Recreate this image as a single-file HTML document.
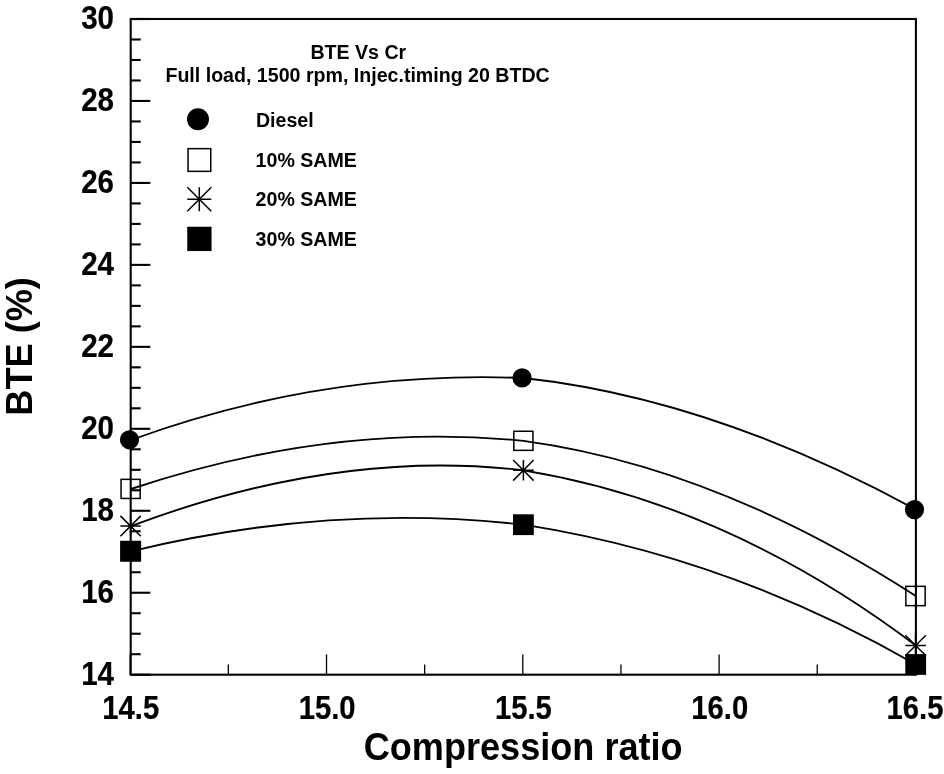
<!DOCTYPE html>
<html lang="en"><head><meta charset="utf-8"><title>BTE Vs Cr</title>
<style>html,body{margin:0;padding:0;background:#fff;}svg{display:block;will-change:transform;}text{font-family:'Liberation Sans', Arial, Helvetica, sans-serif;font-weight:bold;fill:#000;}</style></head><body>
<svg width="944" height="774" viewBox="0 0 944 774">
<rect x="0" y="0" width="944" height="774" fill="#fff"/>
<g fill="none" stroke="#000" stroke-width="1.85" stroke-linecap="butt">
<path d="M131.00 440.00 C261.82 392.16 392.63 372.80 523.45 378.00 C654.27 392.16 785.08 438.41 915.90 509.60"/>
<path d="M131.00 489.00 C261.82 445.26 392.63 427.75 523.45 440.80 C654.27 458.59 785.08 511.52 915.90 596.00"/>
<path d="M131.00 526.10 C261.82 476.99 392.63 454.76 523.45 470.30 C654.27 491.57 785.08 546.83 915.90 645.50"/>
<path d="M131.00 551.30 C261.82 519.51 392.63 509.88 523.45 524.70 C654.27 545.21 785.08 589.45 915.90 664.50"/>
</g>
<rect x="130.70" y="19.00" width="785.20" height="655.70" fill="none" stroke="#000" stroke-width="2.1"/>
<g stroke="#000" stroke-width="2.1">
<line x1="130.70" y1="674.70" x2="150.30" y2="674.70"/>
<line x1="130.70" y1="654.21" x2="140.70" y2="654.21"/>
<line x1="130.70" y1="633.72" x2="140.70" y2="633.72"/>
<line x1="130.70" y1="613.23" x2="140.70" y2="613.23"/>
<line x1="130.70" y1="592.74" x2="150.30" y2="592.74"/>
<line x1="130.70" y1="572.25" x2="140.70" y2="572.25"/>
<line x1="130.70" y1="551.76" x2="140.70" y2="551.76"/>
<line x1="130.70" y1="531.27" x2="140.70" y2="531.27"/>
<line x1="130.70" y1="510.78" x2="150.30" y2="510.78"/>
<line x1="130.70" y1="490.28" x2="140.70" y2="490.28"/>
<line x1="130.70" y1="469.79" x2="140.70" y2="469.79"/>
<line x1="130.70" y1="449.30" x2="140.70" y2="449.30"/>
<line x1="130.70" y1="428.81" x2="150.30" y2="428.81"/>
<line x1="130.70" y1="408.32" x2="140.70" y2="408.32"/>
<line x1="130.70" y1="387.83" x2="140.70" y2="387.83"/>
<line x1="130.70" y1="367.34" x2="140.70" y2="367.34"/>
<line x1="130.70" y1="346.85" x2="150.30" y2="346.85"/>
<line x1="130.70" y1="326.36" x2="140.70" y2="326.36"/>
<line x1="130.70" y1="305.87" x2="140.70" y2="305.87"/>
<line x1="130.70" y1="285.38" x2="140.70" y2="285.38"/>
<line x1="130.70" y1="264.89" x2="150.30" y2="264.89"/>
<line x1="130.70" y1="244.40" x2="140.70" y2="244.40"/>
<line x1="130.70" y1="223.91" x2="140.70" y2="223.91"/>
<line x1="130.70" y1="203.42" x2="140.70" y2="203.42"/>
<line x1="130.70" y1="182.93" x2="150.30" y2="182.93"/>
<line x1="130.70" y1="162.43" x2="140.70" y2="162.43"/>
<line x1="130.70" y1="141.94" x2="140.70" y2="141.94"/>
<line x1="130.70" y1="121.45" x2="140.70" y2="121.45"/>
<line x1="130.70" y1="100.96" x2="150.30" y2="100.96"/>
<line x1="130.70" y1="80.47" x2="140.70" y2="80.47"/>
<line x1="130.70" y1="59.98" x2="140.70" y2="59.98"/>
<line x1="130.70" y1="39.49" x2="140.70" y2="39.49"/>
<line x1="130.70" y1="19.00" x2="150.30" y2="19.00"/>
</g>
<g stroke="#000" stroke-width="1.3">
<line x1="130.20" y1="674.70" x2="130.20" y2="654.40"/>
<line x1="228.35" y1="674.70" x2="228.35" y2="664.40"/>
<line x1="326.50" y1="674.70" x2="326.50" y2="654.40"/>
<line x1="424.65" y1="674.70" x2="424.65" y2="664.40"/>
<line x1="522.80" y1="674.70" x2="522.80" y2="654.40"/>
<line x1="620.95" y1="674.70" x2="620.95" y2="664.40"/>
<line x1="719.10" y1="674.70" x2="719.10" y2="654.40"/>
<line x1="817.25" y1="674.70" x2="817.25" y2="664.40"/>
<line x1="915.40" y1="674.70" x2="915.40" y2="654.40"/>
</g>
<g font-size="30" text-anchor="end" stroke="#000" stroke-width="0.2" stroke-linejoin="round">
<text transform="translate(114.0 684.70) scale(0.985 1.085)">14</text>
<text transform="translate(114.0 602.74) scale(0.985 1.085)">16</text>
<text transform="translate(114.0 520.78) scale(0.985 1.085)">18</text>
<text transform="translate(114.0 438.81) scale(0.985 1.085)">20</text>
<text transform="translate(114.0 356.85) scale(0.985 1.085)">22</text>
<text transform="translate(114.0 274.89) scale(0.985 1.085)">24</text>
<text transform="translate(114.0 192.93) scale(0.985 1.085)">26</text>
<text transform="translate(114.0 110.96) scale(0.985 1.085)">28</text>
<text transform="translate(114.0 29.00) scale(0.985 1.085)">30</text>
</g>
<g font-size="30" text-anchor="middle" stroke="#000" stroke-width="0.2" stroke-linejoin="round">
<text transform="translate(130.80 719.25) scale(0.975 1.085)">14.5</text>
<text transform="translate(327.10 719.25) scale(0.975 1.085)">15.0</text>
<text transform="translate(523.40 719.25) scale(0.975 1.085)">15.5</text>
<text transform="translate(719.70 719.25) scale(0.975 1.085)">16.0</text>
<text transform="translate(915.00 719.25) scale(0.975 1.085)">16.5</text>
</g>
<text transform="translate(523.2 760.0) scale(0.992 1.045)" font-size="36.4" text-anchor="middle">Compression ratio</text>
<text transform="translate(32.2 346.4) rotate(-90) scale(0.993 1.01)" font-size="36.4" text-anchor="middle">BTE (%)</text>
<g font-size="19.6" text-anchor="middle">
<text x="358.3" y="59.0">BTE Vs Cr</text>
<text x="357.6" y="81.7">Full load, 1500 rpm, Injec.timing 20 BTDC</text>
</g>
<circle cx="198.00" cy="119.30" r="11.00" fill="#000"/>
<rect x="188.05" y="148.65" width="22.70" height="22.70" fill="none" stroke="#000" stroke-width="1.50"/>
<path d="M187.30 199.30 H211.30 M199.30 187.30 V211.30 M187.30 187.30 L211.30 211.30 M187.30 211.30 L211.30 187.30" fill="none" stroke="#000" stroke-width="1.50"/>
<rect x="187.25" y="226.75" width="24.30" height="24.30" fill="#000"/>
<g font-size="19.6">
<text x="255.9" y="126.6">Diesel</text>
<text x="255.6" y="166.9">10% SAME</text>
<text x="255.6" y="205.8">20% SAME</text>
<text x="255.6" y="245.8">30% SAME</text>
</g>
<circle cx="129.50" cy="439.80" r="9.60" fill="#000"/>
<circle cx="522.10" cy="377.90" r="9.60" fill="#000"/>
<circle cx="914.50" cy="509.60" r="9.60" fill="#000"/>
<rect x="121.05" y="479.35" width="19.10" height="19.10" fill="none" stroke="#000" stroke-width="1.50"/>
<rect x="513.85" y="431.25" width="19.10" height="19.10" fill="none" stroke="#000" stroke-width="1.50"/>
<rect x="905.85" y="586.35" width="19.30" height="19.30" fill="none" stroke="#000" stroke-width="1.50"/>
<path d="M120.40 526.10 H140.80 M130.60 515.90 V536.30 M120.40 515.90 L140.80 536.30 M120.40 536.30 L140.80 515.90" fill="none" stroke="#000" stroke-width="1.50"/>
<path d="M513.10 470.30 H533.70 M523.40 460.00 V480.60 M513.10 460.00 L533.70 480.60 M513.10 480.60 L533.70 460.00" fill="none" stroke="#000" stroke-width="1.50"/>
<path d="M905.30 645.50 H925.90 M915.60 635.20 V655.80 M905.30 635.20 L925.90 655.80 M905.30 655.80 L925.90 635.20" fill="none" stroke="#000" stroke-width="1.50"/>
<rect x="120.10" y="540.75" width="21.00" height="21.00" fill="#000"/>
<rect x="513.00" y="514.30" width="20.80" height="20.80" fill="#000"/>
<rect x="905.30" y="654.10" width="20.80" height="20.80" fill="#000"/>
</svg></body></html>
